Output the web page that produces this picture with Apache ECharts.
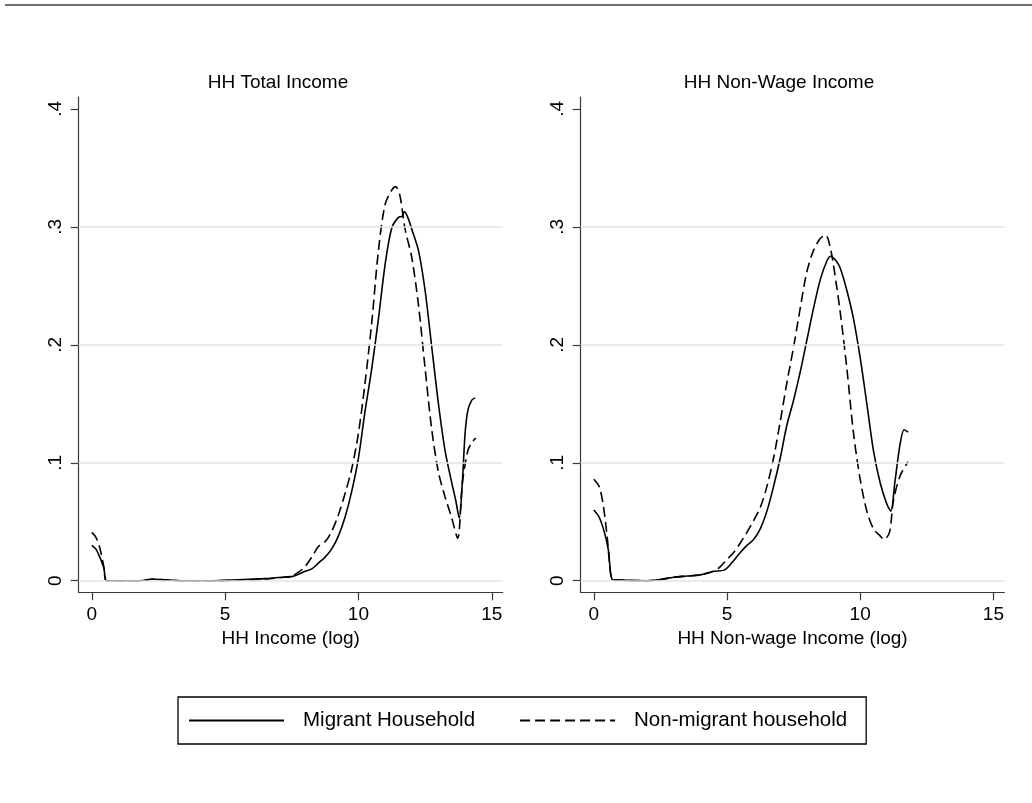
<!DOCTYPE html>
<html><head><meta charset="utf-8">
<script src="https://cdn.jsdelivr.net/npm/echarts@6/dist/echarts.min.js"></script>
<style>html,body{margin:0;padding:0;background:#fff}#c{width:1032px;height:803px}</style>
</head><body><div id="c"></div>
<script>
const xTicks = [0, 5, 10, 15];
const yTicks = [0, 0.1, 0.2, 0.3, 0.4];
const gridVals = [0, 0.1, 0.2, 0.3];
const panelTitles = ['HH Total Income', 'HH Non-Wage Income'];
const xTitles = ['HH Income (log)', 'HH Non-wage Income (log)'];
const seriesNames = ['Migrant Household', 'Non-migrant household'];

const totMigX = [0, 0.15, 0.3, 0.45, 0.56, 1, 1.8, 2.3, 2.8, 3.5, 4.5, 5.5, 6.5, 7, 7.5, 7.8, 8, 8.25, 8.5, 8.75, 9, 9.25, 9.5, 9.75, 10, 10.25, 10.5, 10.75, 11, 11.25, 11.5, 11.65, 11.72, 11.85, 12, 12.25, 12.5, 12.75, 13, 13.25, 13.5, 13.65, 13.78, 13.9, 14, 14.1, 14.25, 14.38];
const totMigY = [0.030, 0.027, 0.020, 0.011, 0, 0, 0, 0.0012, 0.0008, 0, 0, 0.0008, 0.0018, 0.0028, 0.0035, 0.006, 0.008, 0.010, 0.015, 0.020, 0.027, 0.038, 0.054, 0.076, 0.104, 0.144, 0.180, 0.222, 0.268, 0.299, 0.308, 0.309, 0.313, 0.308, 0.298, 0.280, 0.246, 0.198, 0.150, 0.110, 0.083, 0.068, 0.053, 0.085, 0.125, 0.144, 0.153, 0.155];

const totNonX = [0, 0.15, 0.3, 0.45, 0.55, 1, 1.8, 2.3, 2.8, 3.5, 4.5, 5.5, 6.5, 7, 7.5, 7.8, 8, 8.25, 8.5, 8.75, 9, 9.25, 9.5, 9.75, 10, 10.25, 10.5, 10.75, 11, 11.25, 11.4, 11.55, 11.75, 12, 12.25, 12.5, 12.75, 13, 13.25, 13.5, 13.72, 13.9, 14.1, 14.25, 14.4];
const totNonY = [0.041, 0.037, 0.028, 0.012, 0, 0, 0, 0.0015, 0.0005, 0, 0, 0.0005, 0.0015, 0.0025, 0.004, 0.008, 0.012, 0.020, 0.029, 0.033, 0.042, 0.056, 0.074, 0.095, 0.125, 0.168, 0.219, 0.280, 0.319, 0.331, 0.334, 0.327, 0.298, 0.274, 0.234, 0.180, 0.128, 0.092, 0.071, 0.053, 0.036, 0.083, 0.110, 0.117, 0.121];

const nwMigX = [0, 0.2, 0.4, 0.55, 0.7, 1, 2, 2.5, 3, 3.5, 4, 4.5, 4.9, 5.25, 5.5, 5.75, 6, 6.25, 6.5, 6.75, 7, 7.25, 7.5, 7.75, 8, 8.25, 8.5, 8.75, 8.9, 9.1, 9.25, 9.5, 9.75, 10, 10.25, 10.5, 10.75, 11, 11.15, 11.3, 11.5, 11.65, 11.8];
const nwMigY = [0.060, 0.054, 0.041, 0.026, 0.001, 0.0005, 0, 0.001, 0.003, 0.004, 0.005, 0.008, 0.009, 0.017, 0.024, 0.030, 0.035, 0.044, 0.059, 0.080, 0.104, 0.132, 0.153, 0.177, 0.204, 0.231, 0.255, 0.271, 0.275, 0.271, 0.265, 0.246, 0.222, 0.189, 0.150, 0.110, 0.083, 0.065, 0.059, 0.083, 0.116, 0.128, 0.126];

const nwNonX = [0, 0.2, 0.35, 0.5, 0.65, 0.75, 1, 2, 2.5, 3, 3.5, 4, 4.5, 4.75, 5, 5.25, 5.5, 5.75, 6, 6.25, 6.5, 6.75, 7, 7.25, 7.5, 7.75, 8, 8.25, 8.5, 8.7, 8.9, 9.1, 9.25, 9.5, 9.75, 10, 10.25, 10.5, 10.75, 10.9, 11.1, 11.25, 11.5, 11.8];
const nwNonY = [0.086, 0.080, 0.065, 0.038, 0.003, 0.001, 0.0005, 0, 0.001, 0.003, 0.004, 0.005, 0.008, 0.012, 0.018, 0.024, 0.032, 0.041, 0.051, 0.062, 0.080, 0.104, 0.135, 0.168, 0.198, 0.231, 0.262, 0.280, 0.290, 0.293, 0.280, 0.252, 0.228, 0.180, 0.125, 0.086, 0.059, 0.044, 0.038, 0.035, 0.041, 0.068, 0.089, 0.101];

const FONT = '"Liberation Sans", Arial, sans-serif';
const AX = '#3a3a3a';
const FS = 19;
const zip = (xs, ys) => xs.map((x, i) => [x, ys[i]]);

const grids = [
  {left: 78.7, top: 97, width: 424, height: 495.3},
  {left: 580.7, top: 97, width: 423.6, height: 495.3}
];
const titleCenters = [273, 774];

function xAxisFor(i) {
  return {
    type: 'value', gridIndex: i, min: -0.49, max: 15.41,
    axisLine: {show: true, onZero: false, lineStyle: {color: AX, width: 1.2}},
    axisTick: {show: true, customValues: xTicks, length: 8, lineStyle: {color: AX, width: 1.2}},
    axisLabel: {customValues: xTicks, fontSize: FS, color: '#000', margin: 13, fontFamily: FONT},
    splitLine: {show: false},
    name: xTitles[i], nameLocation: 'middle', nameGap: 27,
    nameTextStyle: {fontSize: FS, color: '#000', fontFamily: FONT}
  };
}
function yAxisFor(i) {
  return {
    type: 'value', gridIndex: i, min: -0.0098, max: 0.41,
    axisLine: {show: true, onZero: false, lineStyle: {color: AX, width: 1.2}},
    axisTick: {show: true, customValues: yTicks, length: 8, lineStyle: {color: AX, width: 1.2}},
    axisLabel: {customValues: yTicks, fontSize: FS, color: '#000', margin: 13, rotate: 90, fontFamily: FONT,
      formatter: v => v === 0 ? '0' : String(Math.round(v * 10) / 10).replace(/^0/, '')},
    splitLine: {show: false}
  };
}
function curve(name, i, xs, ys, dashed) {
  return {
    type: 'line', name: name, xAxisIndex: i, yAxisIndex: i,
    data: zip(xs, ys), showSymbol: false, symbol: 'none',
    smooth: 0.3, z: 3,
    lineStyle: {color: '#000', width: 1.6, type: dashed ? [10, 5] : 'solid'},
    itemStyle: {color: '#000'}
  };
}
function gridHost(i) {
  return {
    type: 'line', xAxisIndex: i, yAxisIndex: i, data: [], z: 1, silent: true,
    markLine: {silent: true, symbol: 'none', label: {show: false}, animation: false,
      lineStyle: {color: '#e3e3e3', type: 'solid', width: 1.5},
      data: gridVals.map(v => ({yAxis: v}))}
  };
}

const option = {
  animation: false,
  backgroundColor: '#fff',
  textStyle: {fontFamily: FONT},
  title: panelTitles.map((t, i) => ({
    text: t, left: titleCenters[i], top: 68, textAlign: 'center',
    textStyle: {fontSize: FS, fontWeight: 'normal', color: '#000', fontFamily: FONT}
  })),
  grid: grids,
  xAxis: [xAxisFor(0), xAxisFor(1)],
  yAxis: [yAxisFor(0), yAxisFor(1)],
  legend: {
    data: seriesNames, left: 178, top: 697, orient: 'horizontal',
    itemWidth: 95, itemHeight: 20, itemGap: 44,
    padding: [13, 19, 13, 10],
    borderColor: '#000', borderWidth: 1.3,
    itemStyle: {opacity: 0},
    textStyle: {fontSize: 20.5, color: '#000', fontFamily: FONT, padding: [0, 0, 0, 14]}
  },
  graphic: [{type: 'line', shape: {x1: 5, y1: 5, x2: 1032, y2: 5}, style: {stroke: '#707070', lineWidth: 2}}],
  series: [
    gridHost(0), gridHost(1),
    curve(seriesNames[0], 0, totMigX, totMigY, false),
    curve(seriesNames[1], 0, totNonX, totNonY, true),
    curve(seriesNames[0], 1, nwMigX, nwMigY, false),
    curve(seriesNames[1], 1, nwNonX, nwNonY, true)
  ]
};
const chart = echarts.init(document.getElementById('c'), null, {renderer: 'canvas'});
chart.setOption(option);
</script></body></html>
